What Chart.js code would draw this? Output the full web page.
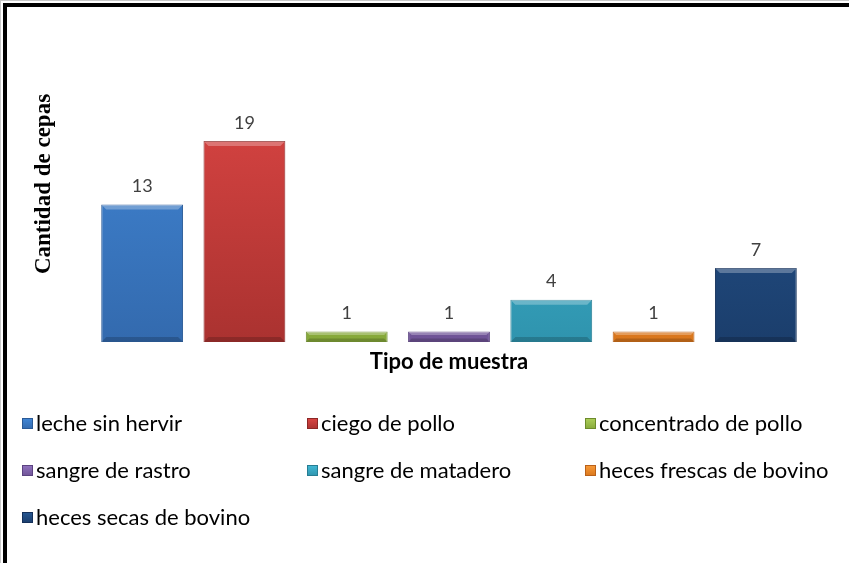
<!DOCTYPE html>
<html>
<head>
<meta charset="utf-8">
<script src="https://cdn.jsdelivr.net/npm/chart.js@4.4.1/dist/chart.umd.min.js"></script>
<style>
  html, body { margin: 0; padding: 0; background: #fff; }
  #frame {
    position: absolute; left: 0; top: 0; width: 849px; height: 563px;
    box-sizing: border-box;
    border-top: 1px solid #c8c8c8; border-left: 1px solid #c8c8c8;
  }
  #inner {
    position: absolute; left: 2px; top: 2px; right: 0; bottom: 0;
    border-top: 4px solid #000; border-left: 4px solid #000;
  }
  #wrap { position: absolute; left: 0; top: 0; width: 849px; height: 563px; }
</style>
</head>
<body>
<div id="frame"><div id="inner"></div></div>
<div id="wrap"><canvas id="chart" width="849" height="563"></canvas></div>
<script>
const categories = [
  "leche sin hervir",
  "ciego de pollo",
  "concentrado de pollo",
  "sangre de rastro",
  "sangre de matadero",
  "heces frescas de bovino",
  "heces secas de bovino"
]
const cepas = [13, 19, 1, 1, 4, 1, 7]

// light top / dark bottom / edge colour for each bar
const topColors = ["#4288d8", "#dc4644", "#aed05a", "#9274c0", "#42bad6", "#f99c3a", "#275894"]
const bottomColors = ["#336aae", "#aa3230", "#86a83a", "#6f5396", "#2f94ae", "#d9761c", "#1b3e6c"]
const edgeColors = ["#2a5a96", "#8c2726", "#6d8b2c", "#5b4380", "#277d93", "#b9611a", "#14305a"]

const yTitle = "Cantidad de cepas"
const xTitle = "Tipo de muestra"

const barFill = (context) => {
  const chart = context.chart
  const area = chart.chartArea
  const i = context.dataIndex
  if (!area) return topColors[i]
  const el = chart.getDatasetMeta(0).data[i]
  const top = el && isFinite(el.y) ? el.y : area.top
  const g = chart.ctx.createLinearGradient(0, top, 0, area.bottom)
  g.addColorStop(0, topColors[i])
  g.addColorStop(1, bottomColors[i])
  return g
}

const extras = {
  id: "extras",
  afterDatasetsDraw(chart) {
    const ctx = chart.ctx
    const meta = chart.getDatasetMeta(0)
    ctx.save()

    // bevel highlight on top of bars
    meta.data.forEach((bar, i) => {
      const left = bar.x - bar.width / 2
      const h = bar.base - bar.y
      const bevel = Math.min(5, h / 3)
      ctx.fillStyle = "rgba(255,255,255,0.28)"
      ctx.beginPath()
      ctx.moveTo(left, bar.y)
      ctx.lineTo(left + bar.width, bar.y)
      ctx.lineTo(left + bar.width - bevel, bar.y + bevel)
      ctx.lineTo(left + bevel, bar.y + bevel)
      ctx.closePath()
      ctx.fill()
      ctx.fillStyle = "rgba(0,0,0,0.18)"
      ctx.beginPath()
      ctx.moveTo(left, bar.base)
      ctx.lineTo(left + bar.width, bar.base)
      ctx.lineTo(left + bar.width - bevel, bar.base - bevel)
      ctx.lineTo(left + bevel, bar.base - bevel)
      ctx.closePath()
      ctx.fill()
    })

    // value labels
    ctx.fillStyle = "#404040"
    ctx.font = "18px Lato"
    ctx.textAlign = "center"
    ctx.textBaseline = "bottom"
    meta.data.forEach((bar, i) => {
      ctx.fillText(String(cepas[i]), bar.x, bar.y - 9)
    })

    // axis titles
    const area = chart.chartArea
    ctx.fillStyle = "#000"
    ctx.font = "bold 22px Lato"
    ctx.textBaseline = "middle"
    ctx.fillText(xTitle, (area.left + area.right) / 2, 362)

    ctx.save()
    ctx.translate(44, 184)
    ctx.rotate(-Math.PI / 2)
    ctx.font = "bold 23px 'Liberation Serif'"
    ctx.fillText(yTitle, 0, 0)
    ctx.restore()

    // legend in a 3-column grid
    const colX = [22, 307, 585]
    const rowY = [423, 470, 517]
    ctx.font = "22px Lato"
    ctx.textAlign = "left"
    categories.forEach((name, i) => {
      const x = colX[i % 3]
      const y = rowY[Math.floor(i / 3)]
      const g = ctx.createLinearGradient(0, y - 5, 0, y + 6)
      g.addColorStop(0, topColors[i])
      g.addColorStop(1, bottomColors[i])
      ctx.fillStyle = g
      ctx.fillRect(x, y - 5, 11, 11)
      ctx.strokeStyle = edgeColors[i]
      ctx.lineWidth = 1
      ctx.strokeRect(x + 0.5, y - 4.5, 10, 10)
      ctx.fillStyle = "#000"
      ctx.fillText(name, x + 14, y + 1)
    })
    ctx.restore()
  }
}

new Chart(document.getElementById("chart"), {
  type: "bar",
  data: {
    labels: categories,
    datasets: [{
      label: yTitle,
      data: cepas,
      backgroundColor: barFill,
      borderColor: edgeColors,
      borderWidth: 1,
      barPercentage: 0.8,
      categoryPercentage: 1
    }]
  },
  options: {
    responsive: false,
    animation: false,
    layout: { padding: { left: 91, right: 42, top: 77.5, bottom: 221 } },
    plugins: {
      legend: { display: false },
      tooltip: { enabled: false }
    },
    scales: {
      x: { display: false },
      y: { display: false, min: 0, max: 25 }
    }
  },
  plugins: [extras]
})
</script>
</body>
</html>
